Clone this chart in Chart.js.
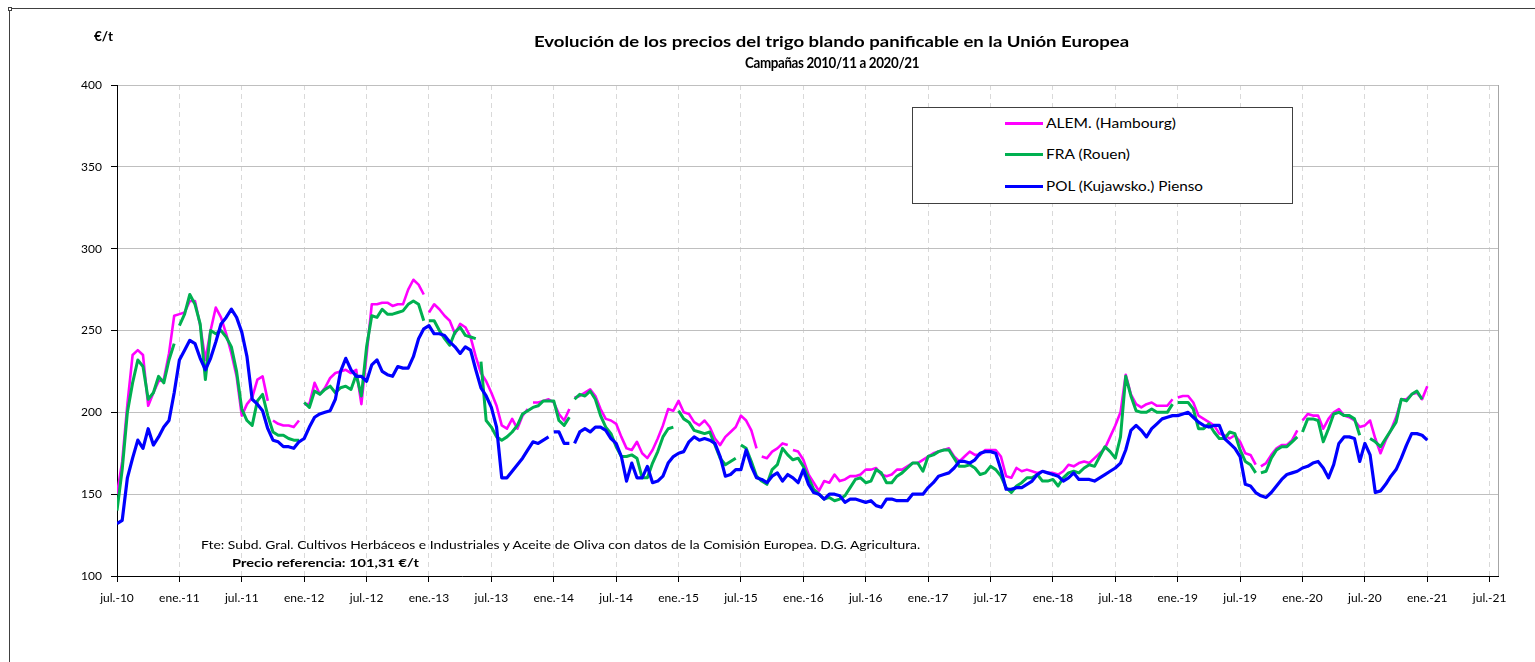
<!DOCTYPE html>
<html lang="es">
<head>
<meta charset="utf-8">
<title>Evolución de los precios del trigo blando panificable en la Unión Europea</title>
<script src="https://cdn.jsdelivr.net/npm/chart.js@4.4.1/dist/chart.umd.min.js"></script>
<style>
  html, body { margin: 0; padding: 0; background: #fff; }
  body { width: 1535px; height: 662px; position: relative; overflow: hidden; font-family: Lato, "Open Sans", sans-serif; color: #000; }
  #frame { position: absolute; left: 9px; top: 8px; width: 1600px; height: 700px; border-left: 1px solid #404040; border-top: 1px solid #404040; }
  #handle { position: absolute; left: 8px; top: 7px; width: 2px; height: 2px; border: 1px solid #404040; background: #fff; }
  #chart { position: absolute; left: 0; top: 0; }
  .txt { position: absolute; white-space: nowrap; transform-origin: 0 50%; line-height: 18px; }
  .b { font-weight: bold; }
  #legend { position: absolute; left: 912px; top: 107px; width: 379px; height: 95px; border: 1px solid #404040; background: #fff; }
  .sw { position: absolute; left: 1005px; width: 38px; height: 3px; }
</style>
</head>
<body>
<div id="frame"></div>
<div id="handle"></div>
<canvas id="chart" width="1535" height="662"></canvas>

<div class="txt b" style="left:94px; top:27px; font-size:13px;" data-w="19">€/t</div>
<div class="txt b" style="left:534px; top:33px; font-size:14.5px;" data-w="595">Evolución de los precios del trigo blando panificable en la Unión Europea</div>
<div class="txt b" style="left:745px; top:54px; font-size:14.5px; letter-spacing:-0.4px;" data-w="174">Campañas 2010/11 a 2020/21</div>

<div id="legend"></div>
<div class="sw" style="top:122px; background:#FF00FF;"></div>
<div class="sw" style="top:153px; background:#00B050;"></div>
<div class="sw" style="top:185px; background:#0000FF;"></div>
<div class="txt" style="left:1046px; top:114px; font-size:13px;" data-w="130" id="lg0"></div>
<div class="txt" style="left:1046px; top:145px; font-size:13px;" data-w="84" id="lg1"></div>
<div class="txt" style="left:1046px; top:177px; font-size:13px;" data-w="157" id="lg2"></div>

<div class="txt" style="left:201px; top:536px; font-size:12px;" data-w="719">Fte: Subd. Gral. Cultivos Herbáceos e Industriales y Aceite de Oliva con datos de la Comisión Europea. D.G. Agricultura.</div>
<div class="txt b" style="left:232px; top:554px; font-size:12px;" data-w="187">Precio referencia: 101,31 €/t</div>

<script>
// x = months since jul.-10, one point every half month
const months = [];
for (let i = 0; i <= 252; i++) months.push(i / 2);

const xLabels = ['jul.-10', 'ene.-11', 'jul.-11', 'ene.-12', 'jul.-12', 'ene.-13', 'jul.-13', 'ene.-14',
  'jul.-14', 'ene.-15', 'jul.-15', 'ene.-16', 'jul.-16', 'ene.-17', 'jul.-17', 'ene.-18', 'jul.-18',
  'ene.-19', 'jul.-19', 'ene.-20', 'jul.-20', 'ene.-21', 'jul.-21'];

const seriesNames = ['ALEM. (Hambourg)', 'FRA (Rouen)', 'POL (Kujawsko.) Pienso'];

// €/t, each row = 6 months
const alem = [
  150,170,205,235,238,235,204,212,219,220,236,259,
  260,261,268,268,253,232,250,264,258,248,236,222,
  198,205,209,220,222,207,195,193,192,192,191,195,
  205,205,218,211,215,221,224,225,226,224,226,205,
  235,266,266,267,267,265,266,266,275,281,278,272,
  261,266,263,259,256,248,254,252,246,234,224,219,
  212,204,192,190,196,190,198,202,206,206,207,208,
  206,199,195,202,209,210,212,214,210,202,196,195,
  193,185,178,177,182,175,172,177,184,192,202,201,
  207,200,199,194,192,195,191,184,180,185,188,191,
  198,195,189,178,173,172,176,178,181,180,177,176,
  171,162,157,152,158,157,162,158,159,161,161,162,
  165,165,166,162,161,162,165,165,167,169,169,171,
  173,175,176,177,178,173,170,173,176,174,174,177,
  177,177,173,161,160,166,164,165,164,163,164,163,
  163,162,164,168,167,169,170,169,172,175,178,185,
  192,200,223,211,205,203,205,206,204,204,204,208,
  209,210,210,206,198,196,194,192,187,186,184,186,
  182,175,174,168,167,169,174,178,180,180,183,189,
  195,199,198,198,190,196,200,202,198,197,195,191,
  192,195,184,175,183,189,197,208,208,211,212,208,
  216
];

const fra = [
  140,165,200,218,232,228,208,212,222,218,232,242,
  253,260,272,266,254,220,250,248,250,246,240,225,
  202,195,192,207,211,198,188,186,186,184,183,183,
  206,203,213,211,214,216,212,215,216,214,223,210,
  240,259,258,263,260,260,261,262,266,268,266,256,
  256,256,250,245,241,249,252,247,246,245,231,195,
  191,185,183,185,188,192,199,201,203,204,207,207,
  207,195,192,197,208,211,210,213,208,198,191,187,
  179,173,173,174,172,160,160,169,176,185,190,191,
  201,196,194,189,188,187,188,180,172,168,170,172,
  180,178,170,161,158,156,165,168,178,174,171,172,
  167,160,153,150,147,148,146,147,149,154,159,160,
  157,158,165,163,157,157,161,163,166,169,169,164,
  173,174,176,177,177,172,167,167,168,166,162,163,
  167,165,161,154,151,155,157,160,160,162,158,158,
  159,155,160,163,164,163,166,168,167,173,179,176,
  172,185,222,210,201,200,200,202,200,200,200,205,
  206,206,206,202,190,190,193,188,184,184,188,187,
  177,170,168,163,163,164,172,177,179,179,182,185,
  188,196,196,195,182,190,199,200,198,198,196,186,
  185,184,182,179,184,189,194,208,207,211,213,208,
  null
];

const pol = [
  132,134,160,172,183,178,190,180,185,191,195,212,
  232,238,244,242,233,226,233,243,254,258,263,258,
  249,234,208,205,201,190,183,182,179,179,178,182,
  184,191,197,199,200,201,208,225,233,226,222,222,
  219,229,232,225,223,222,228,227,227,234,245,251,
  253,248,248,247,243,240,236,240,238,226,215,210,
  203,191,160,160,164,168,172,177,182,181,183,185,
  188,188,181,181,181,188,190,188,191,191,189,184,
  181,173,158,169,160,160,167,157,158,161,169,173,
  175,176,182,185,183,184,183,181,173,161,162,165,
  165,177,167,160,159,157,161,163,158,162,160,157,
  165,156,151,150,147,150,150,149,145,147,147,146,
  145,146,143,142,147,147,146,146,146,150,150,150,
  154,157,161,162,163,166,170,170,169,171,175,176,
  176,175,165,153,153,154,154,156,158,162,164,163,
  162,161,158,160,163,159,159,159,158,160,162,164,
  166,169,177,189,192,189,185,190,193,196,197,198,
  198,199,200,197,194,192,191,192,192,184,181,178,
  173,156,155,151,149,148,151,155,159,162,163,164,
  166,167,169,170,166,160,168,181,185,185,184,170,
  181,174,151,152,156,161,165,172,180,187,187,186,
  183
];

// weeks without quotation: the half month starting at these months is left blank
const alemBreaks = [14.5, 17.5, 29.5, 39.5, 43.5, 61.5, 64.5, 101.5, 109.5, 113.5];
const fraBreaks = [5.5, 17.5, 29.5, 34.5, 43.5, 53.5, 59.5, 101.5, 109.5, 113.5, 119.5, 120];
const polBreaks = [41.5, 43.5];

function makeSet(label, values, breaks, color, width, order) {
  return {
    label: label,
    order: order,
    data: values.map((v, i) => ({ x: months[i], y: v })),
    borderColor: color,
    borderWidth: width,
    borderJoinStyle: 'round',
    pointRadius: 0,
    tension: 0,
    fill: false,
    spanGaps: false,
    segment: {
      borderColor: ctx => breaks.includes(months[ctx.p0DataIndex]) ? 'rgba(0,0,0,0)' : color
    }
  };
}

// gray border on the right side of the plot area
const plotBorder = {
  id: 'plotBorder',
  beforeDatasetsDraw(chart) {
    const { ctx, chartArea: a } = chart;
    ctx.save();
    ctx.strokeStyle = '#A6A6A6';
    ctx.lineWidth = 1;
    ctx.beginPath();
    ctx.moveTo(Math.round(a.right) + 0.5, a.top);
    ctx.lineTo(Math.round(a.right) + 0.5, a.bottom);
    ctx.stroke();
    ctx.restore();
  }
};

const tickFont = { family: 'Lato', size: 12 };

new Chart(document.getElementById('chart'), {
  type: 'line',
  data: {
    datasets: [
      makeSet(seriesNames[0], alem, alemBreaks, '#FF00FF', 2.6, 3),
      makeSet(seriesNames[1], fra, fraBreaks, '#00B050', 3, 2),
      makeSet(seriesNames[2], pol, polBreaks, '#0000FF', 3.2, 1)
    ]
  },
  options: {
    responsive: false,
    animation: false,
    devicePixelRatio: 1,
    layout: { padding: { top: 85, right: 37, left: 0, bottom: 0 } },
    plugins: { legend: { display: false }, tooltip: { enabled: false }, title: { display: false } },
    scales: {
      x: {
        type: 'linear',
        min: 0,
        max: 132.8,
        afterFit: s => { s.height = 86; },
        ticks: {
          stepSize: 6, includeBounds: false, autoSkip: false, maxRotation: 0,
          color: '#000', font: tickFont, padding: 9,
          callback: v => Number.isInteger(v / 6) ? xLabels[v / 6] : ''
        },
        grid: { color: '#D9D9D9', lineWidth: 1, tickColor: '#000', tickLength: 6 },
        border: { color: '#000', width: 1, dash: [5, 4] }
      },
      y: {
        min: 100,
        max: 400,
        afterFit: s => { s.width = 117; },
        ticks: { stepSize: 50, color: '#000', font: tickFont, padding: 9 },
        grid: { color: '#BFBFBF', lineWidth: 1, tickColor: '#000', tickLength: 6 },
        border: { color: '#000', width: 1 }
      }
    }
  },
  plugins: [plotBorder]
});

// legend labels and fitting of the overlay texts
seriesNames.forEach((n, i) => { document.getElementById('lg' + i).textContent = n; });
document.querySelectorAll('.txt[data-w]').forEach(el => {
  const w = el.getBoundingClientRect().width;
  const target = parseFloat(el.dataset.w);
  if (w > 0) el.style.transform = 'scaleX(' + (target / w).toFixed(3) + ')';
});
</script>
</body>
</html>
